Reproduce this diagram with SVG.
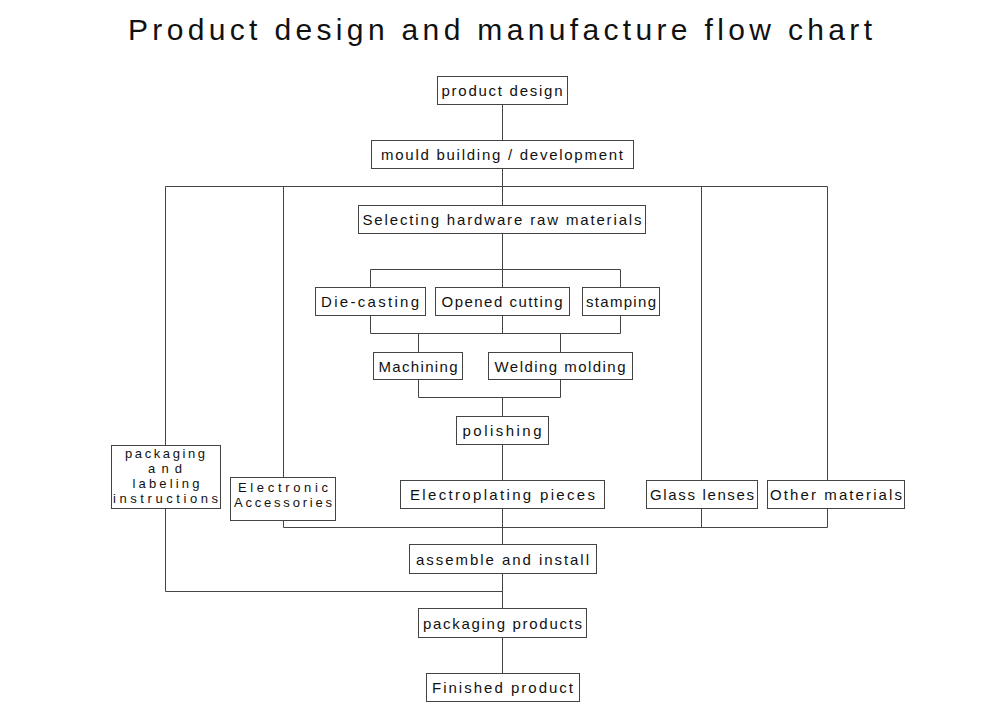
<svg xmlns="http://www.w3.org/2000/svg" width="1000" height="707" viewBox="0 0 1000 707">
<style>
.b{fill:#fff;stroke:#444;stroke-width:1}
.t{font-family:"Liberation Sans",Arial,sans-serif;font-size:15px;fill:#111;text-anchor:middle;dominant-baseline:central}
.s{font-size:13px}
.c{fill:none;stroke:#444;stroke-width:1}
.title{font-family:"Liberation Sans",Arial,sans-serif;font-size:30px;fill:#111;text-anchor:middle}
</style>
<rect width="1000" height="707" fill="#fff"/>
<text class="title" x="500" y="40" textLength="744" lengthAdjust="spacing">Product design and manufacture flow chart</text>
<g id="connectors" class="c">
<path d="M502.5 104V140M502.5 168V205M502.5 233V269M370.5 287V269.5H620.5V287M502.5 269V287"/>
<path d="M370.5 315V333.5H620.5V315M502.5 315V333M418.5 333V352M560.5 333V352"/>
<path d="M418.5 379V397.5H560.5V379M502.5 397V416M502.5 444V480M502.5 508V544M502.5 573V608M502.5 637V673"/>
<path d="M165.5 445V186.5H827.5V480M283.5 186V477M701.5 186V480"/>
<path d="M283.5 520V527.5H827.5V508M701.5 508V527"/>
<path d="M165.5 508V591.5H502.5"/>
</g>
<g id="n1"><rect class="b" x="437.5" y="76.5" width="130" height="28"/><text class="t" x="502" y="90.5" textLength="121" lengthAdjust="spacing">product design</text></g>
<g id="n2"><rect class="b" x="371.5" y="140.5" width="262" height="28"/><text class="t" x="502" y="154.5" textLength="242" lengthAdjust="spacing">mould building / development</text></g>
<g id="n3"><rect class="b" x="358.5" y="205.5" width="287" height="28"/><text class="t" x="502" y="219.5" textLength="279" lengthAdjust="spacing">Selecting hardware raw materials</text></g>
<g id="n4"><rect class="b" x="315.5" y="287.5" width="110" height="28"/><text class="t" x="370" y="301.5" textLength="98" lengthAdjust="spacing">Die-casting</text></g>
<g id="n5"><rect class="b" x="435.5" y="287.5" width="134" height="28"/><text class="t" x="502" y="301.5" textLength="121" lengthAdjust="spacing">Opened cutting</text></g>
<g id="n6"><rect class="b" x="582.5" y="287.5" width="77" height="28"/><text class="t" x="621" y="301.5" textLength="70" lengthAdjust="spacing">stamping</text></g>
<g id="n7"><rect class="b" x="373.5" y="352.5" width="89" height="27"/><text class="t" x="418" y="366" textLength="79" lengthAdjust="spacing">Machining</text></g>
<g id="n8"><rect class="b" x="488.5" y="352.5" width="144" height="27"/><text class="t" x="560" y="366" textLength="131" lengthAdjust="spacing">Welding molding</text></g>
<g id="n9"><rect class="b" x="456.5" y="416.5" width="92" height="28"/><text class="t" x="502" y="430.5" textLength="79" lengthAdjust="spacing">polishing</text></g>
<g id="n10"><rect class="b" x="111.5" y="445.5" width="109" height="63"/>
<text class="t s" x="165" y="453.5" textLength="80" lengthAdjust="spacing">packaging</text>
<text class="t s" x="165" y="468.5" textLength="34" lengthAdjust="spacing">and</text>
<text class="t s" x="166" y="483.5" textLength="67" lengthAdjust="spacing">labeling</text>
<text class="t s" x="165.5" y="498.5" textLength="105" lengthAdjust="spacing">instructions</text></g>
<g id="n11"><rect class="b" x="230.5" y="477.5" width="105" height="43"/>
<text class="t s" x="283" y="487" textLength="90" lengthAdjust="spacing">Electronic</text>
<text class="t s" x="283" y="502.5" textLength="98" lengthAdjust="spacing">Accessories</text></g>
<g id="n12"><rect class="b" x="400.5" y="480.5" width="204" height="28"/><text class="t" x="502.5" y="494.5" textLength="185" lengthAdjust="spacing">Electroplating pieces</text></g>
<g id="n13"><rect class="b" x="646.5" y="480.5" width="111" height="28"/><text class="t" x="702" y="494.5" textLength="104" lengthAdjust="spacing">Glass lenses</text></g>
<g id="n14"><rect class="b" x="767.5" y="480.5" width="137" height="28"/><text class="t" x="836" y="494.5" textLength="132" lengthAdjust="spacing">Other materials</text></g>
<g id="n15"><rect class="b" x="409.5" y="544.5" width="187" height="29"/><text class="t" x="502.5" y="559" textLength="173" lengthAdjust="spacing">assemble and install</text></g>
<g id="n16"><rect class="b" x="418.5" y="608.5" width="168" height="29"/><text class="t" x="502.5" y="623" textLength="159" lengthAdjust="spacing">packaging products</text></g>
<g id="n17"><rect class="b" x="426.5" y="673.5" width="153" height="28"/><text class="t" x="502.5" y="687.5" textLength="141" lengthAdjust="spacing">Finished product</text></g>
</svg>
